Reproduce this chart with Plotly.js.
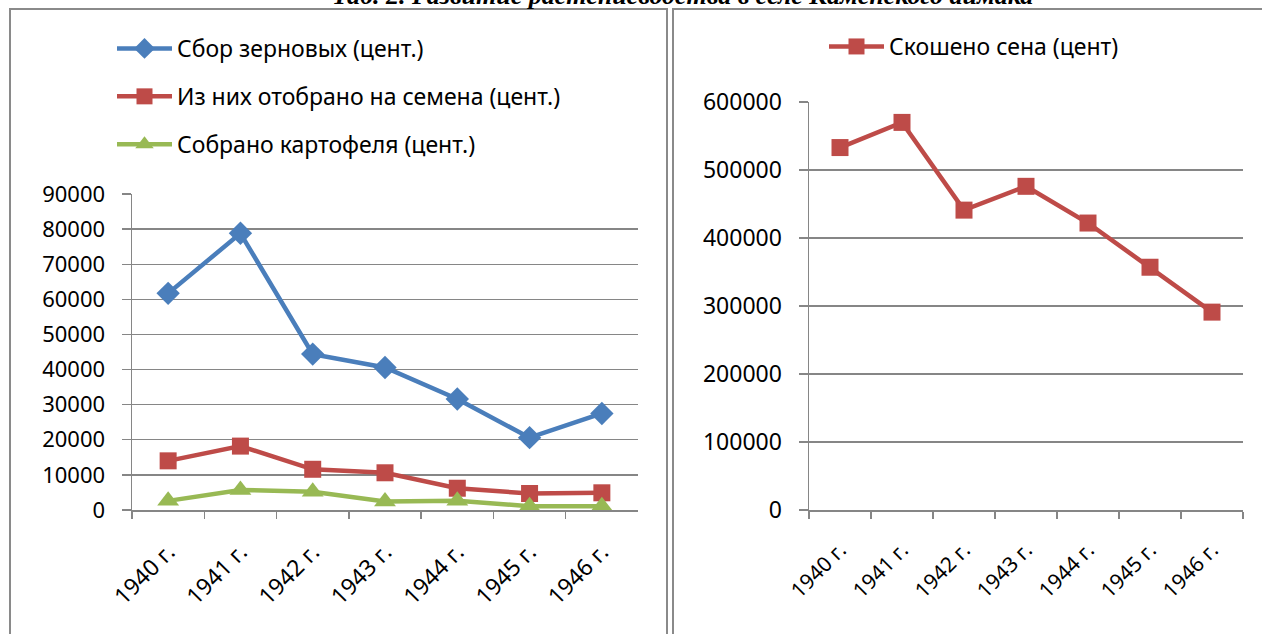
<!DOCTYPE html>
<html><head><meta charset="utf-8">
<script src="https://cdn.plot.ly/plotly-3.0.1.min.js"></script>
<style>html,body{margin:0;padding:0;background:#fff}#chart{width:1262px;height:634px}</style>
</head><body><div id="chart"></div>
<script>
const years = ["1940 г.","1941 г.","1942 г.","1943 г.","1944 г.","1945 г.","1946 г."];
const grain = [61700, 78800, 44400, 40600, 31600, 20600, 27500];
const seeds = [14000, 18200, 11600, 10600, 6200, 4700, 4900];
const potato = [2600, 5700, 5200, 2400, 2600, 1100, 1100];
const hay = [533000, 570000, 441000, 476000, 422000, 357000, 291000];
const names = ["Сбор зерновых (цент.)","Из них отобрано на семена (цент.)","Собрано картофеля (цент.)","Скошено сена (цент)"];
const titleText = "Таб. 2. Развитие растениеводства в селе Каменского аймака";

const W = 1262, H = 634;
const px = v => v / W;
const py = v => 1 - v / H;
const FONT = "Noto Sans, sans-serif";
const GRID = "#868686";

function tr(y, name, color, symbol, size, xa, ya, leg, grp) {
  return {x: years, y: y, name: name, type: "scatter", mode: "lines+markers",
    xaxis: xa, yaxis: ya, legend: leg, legendgroup: grp,
    line: {color: color, width: 4.5},
    marker: {color: color, symbol: symbol, size: size, line: {width: 0}}};
}
const data = [
  tr(grain, names[0], "#4A7EBB", "diamond", 18, "x", "y", "legend", "a"),
  tr(seeds, names[1], "#BE4B48", "square", 17, "x", "y", "legend", "b"),
  tr(potato, names[2], "#98B954", "triangle-up", 19, "x", "y", "legend", "c"),
  tr(hay, names[3], "#BE4B48", "square", 17, "x2", "y2", "legend2", "d")
];

function xax(dom, fs, anchor, so) {
  return {domain: dom, anchor: anchor, type: "category", range: [-0.5, 6.5],
    showline: true, linecolor: GRID, linewidth: 1.5, showgrid: false, zeroline: false,
    ticks: "outside", tickson: "boundaries", ticklen: 7, tickcolor: GRID, tickwidth: 1.5,
    ticklabelstandoff: so,
    tickangle: -45, tickfont: {family: FONT, size: fs, color: "#000"}, fixedrange: true};
}
function yax(dom, rng, dt, fs, anchor, so) {
  return {domain: dom, anchor: anchor, range: rng, dtick: dt, tickformat: "d",
    showline: true, linecolor: GRID, linewidth: 1.5, showgrid: true, gridcolor: GRID, gridwidth: 1.3,
    zeroline: false, ticks: "outside", ticklen: 9, tickcolor: GRID, tickwidth: 1.3,
    ticklabelstandoff: so,
    tickfont: {family: FONT, size: fs, color: "#000"}, fixedrange: true};
}

const layout = {
  width: W, height: H, margin: {l: 0, r: 0, t: 0, b: 0},
  paper_bgcolor: "#fff", plot_bgcolor: "rgba(0,0,0,0)",
  font: {family: FONT, color: "#000"},
  xaxis: xax([px(132), px(638)], 23, "y", 18),
  yaxis: yax([py(510), py(194)], [0, 90000], 10000, 22, "x", 12),
  xaxis2: xax([px(809), px(1243)], 21, "y2", 18),
  yaxis2: yax([py(510), py(102)], [0, 600000], 100000, 23, "x2", 12),
  legend: {x: px(112), y: py(27), xanchor: "left", yanchor: "top", bgcolor: "rgba(0,0,0,0)",
    font: {family: FONT, size: 23, color: "#000"}, tracegroupgap: 15, itemwidth: 55, traceorder: "grouped"},
  legend2: {x: px(824), y: py(25), xanchor: "left", yanchor: "top", bgcolor: "rgba(0,0,0,0)",
    font: {family: FONT, size: 23, color: "#000"}, itemwidth: 55},
  showlegend: true,
  shapes: [
    {type: "rect", xref: "paper", yref: "paper", x0: px(10), x1: px(667), y0: py(640), y1: py(9),
     line: {color: "#8a8a8a", width: 2}, layer: "below"},
    {type: "rect", xref: "paper", yref: "paper", x0: px(673), x1: px(1270), y0: py(640), y1: py(9),
     line: {color: "#8a8a8a", width: 2}, layer: "below"}
  ],
  annotations: [
    {text: "<b><i>" + titleText + "</i></b>", xref: "paper", yref: "paper", x: px(682), y: 1,
     xanchor: "center", yanchor: "bottom", yshift: -12, showarrow: false,
     font: {family: "Liberation Serif, serif", size: 26, color: "#000"}}
  ]
};
Plotly.newPlot("chart", data, layout, {displayModeBar: false, staticPlot: true});
</script></body></html>
